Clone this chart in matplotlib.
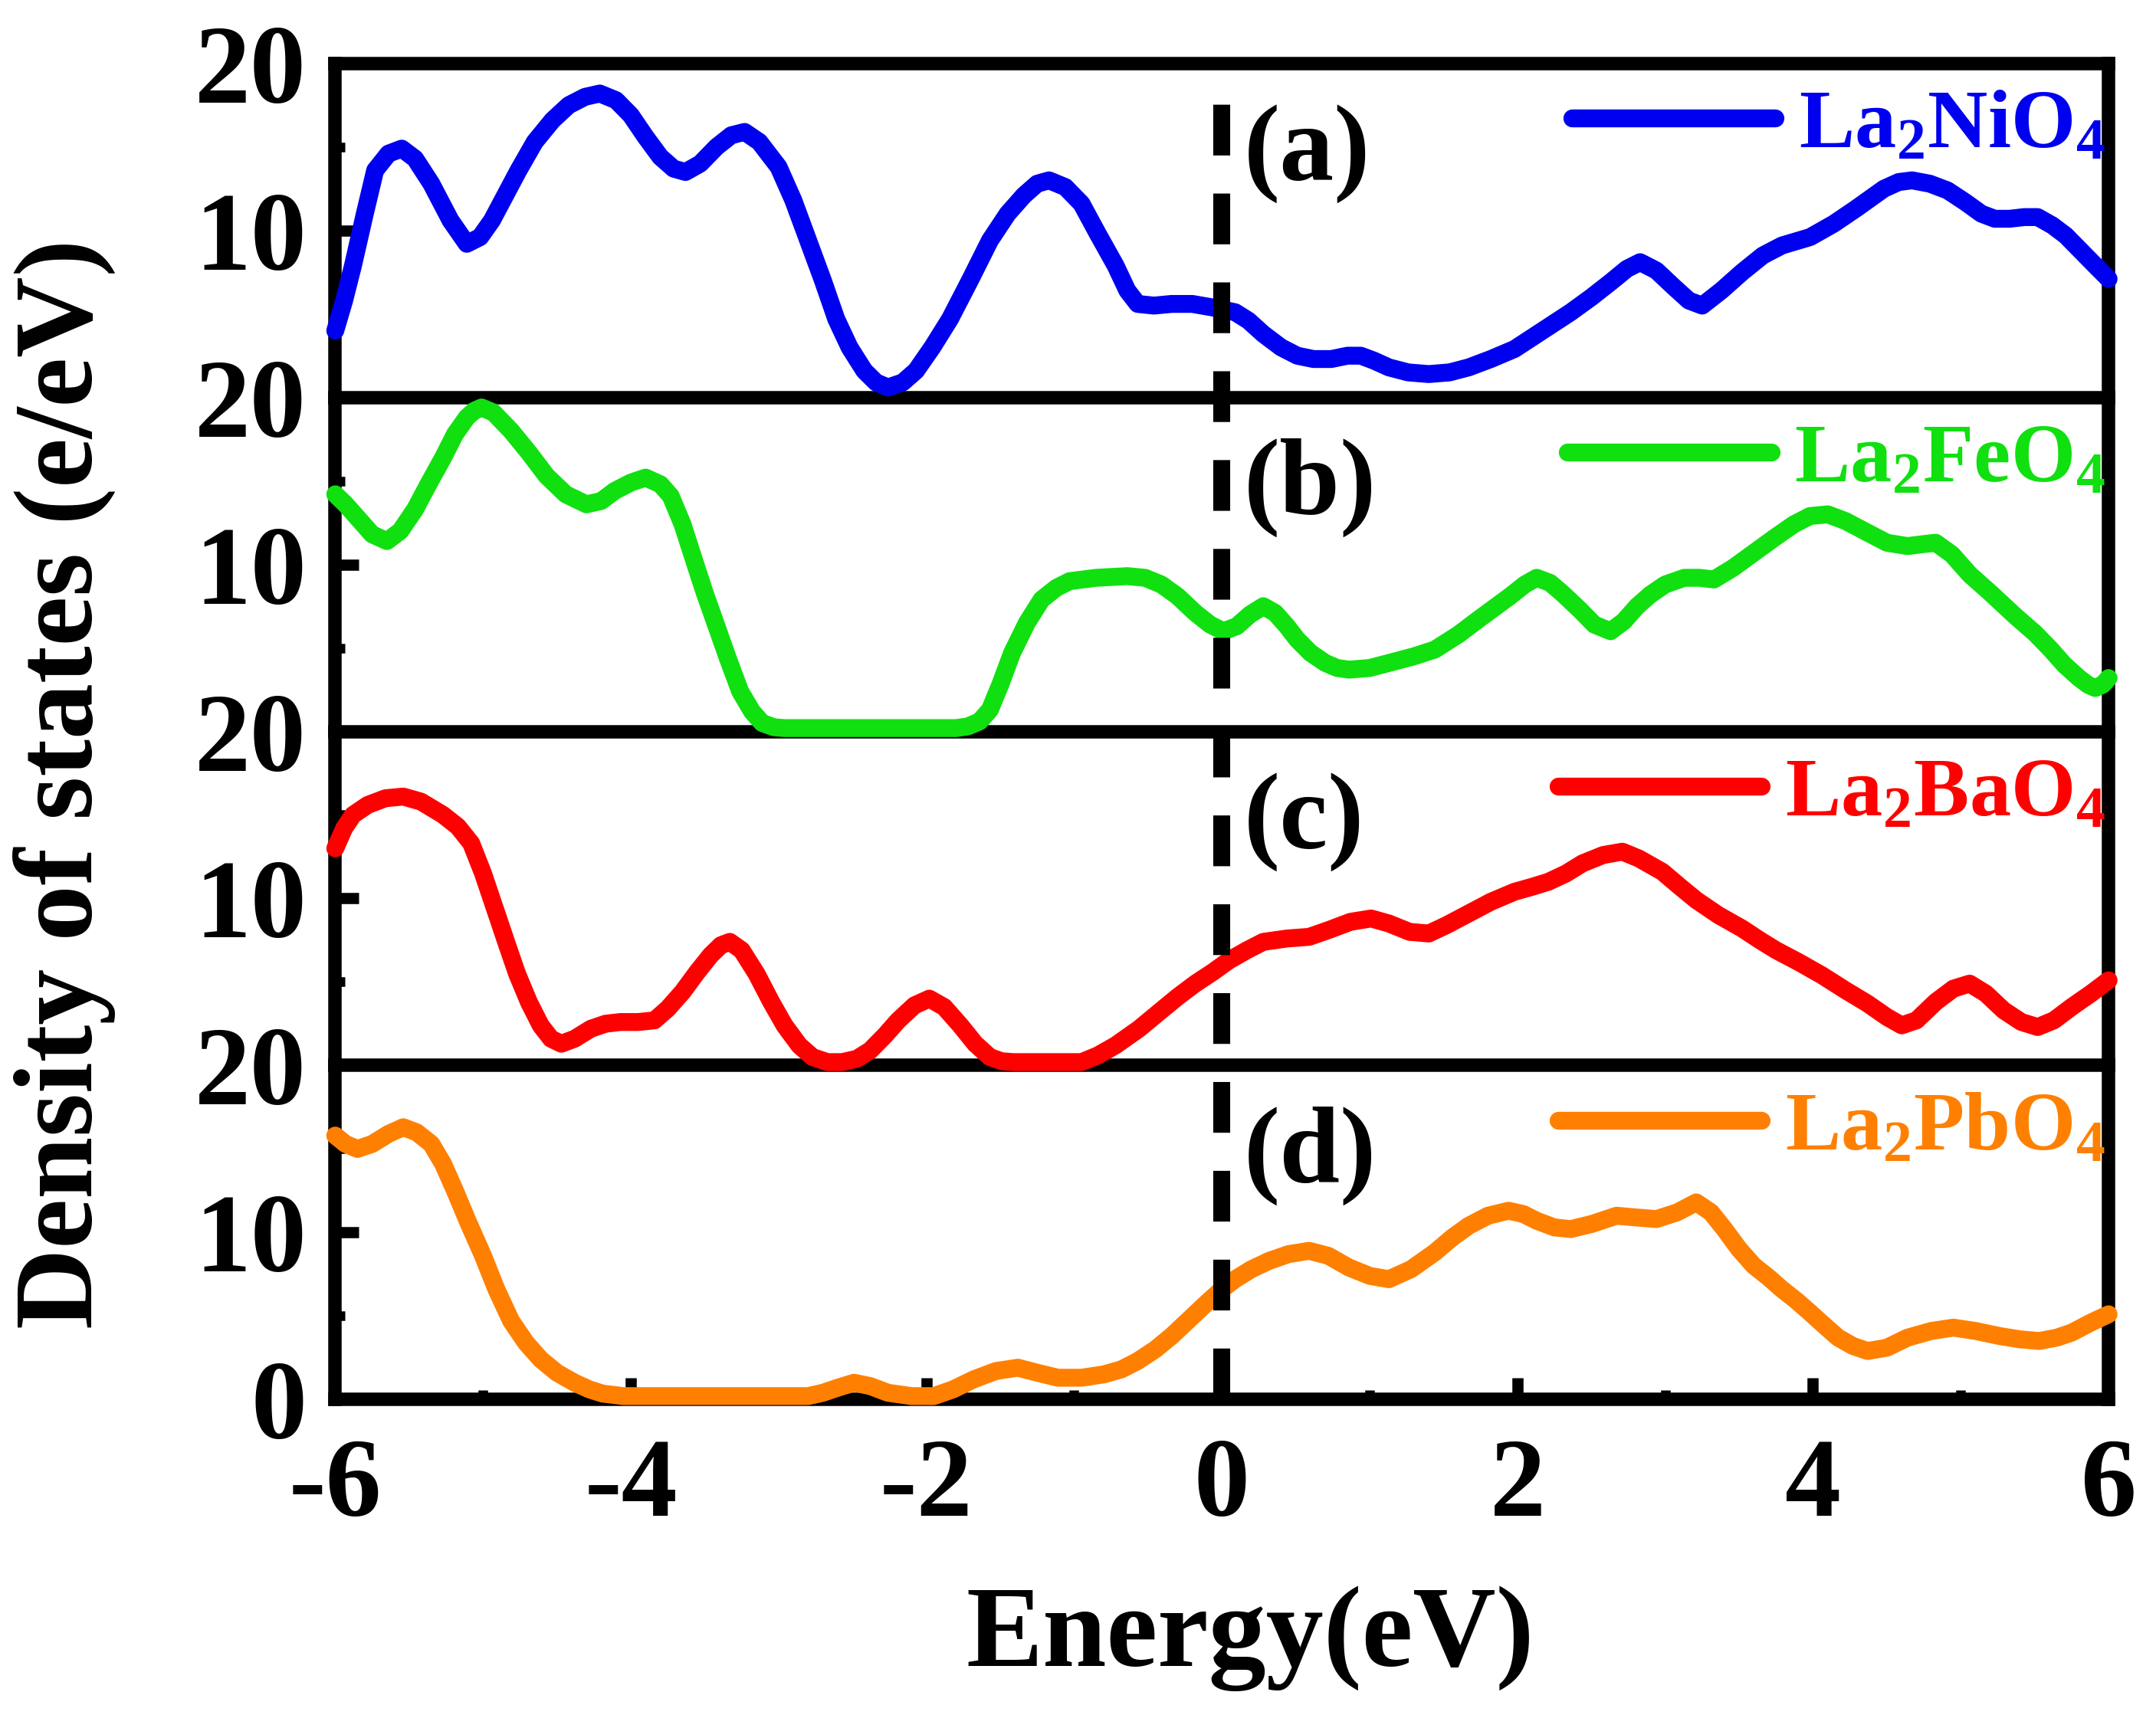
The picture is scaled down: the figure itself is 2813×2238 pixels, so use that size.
import numpy as np
import matplotlib
matplotlib.use('Agg')
import matplotlib.pyplot as plt
from matplotlib.transforms import blended_transform_factory

plt.rcParams['font.family'] = 'Liberation Serif'
plt.rcParams['font.weight'] = 'bold'
plt.rcParams['axes.unicode_minus'] = False
plt.rcParams['mathtext.fontset'] = 'custom'
plt.rcParams['mathtext.rm'] = 'Liberation Serif:bold'
plt.rcParams['mathtext.bf'] = 'Liberation Serif:bold'
plt.rcParams['mathtext.it'] = 'Liberation Serif:bold:italic'

# Density of states (energy in eV, DOS in e/eV)
ni_x = [-6.0, -5.94, -5.88, -5.8, -5.73, -5.64, -5.55, -5.46, -5.35, -5.22, -5.11, -5.02,
        -4.94, -4.88, -4.76, -4.65, -4.53, -4.42, -4.31, -4.21, -4.1, -4.0, -3.9, -3.8,
        -3.71, -3.63, -3.53, -3.42, -3.32, -3.23, -3.13, -3.0, -2.9, -2.8, -2.7, -2.61,
        -2.52, -2.42, -2.34, -2.26, -2.16, -2.07, -1.96, -1.84, -1.7, -1.57, -1.45, -1.34,
        -1.25, -1.17, -1.06, -0.95, -0.84, -0.72, -0.64, -0.57, -0.46, -0.34, -0.2, -0.07,
        0.09, 0.18, 0.28, 0.4, 0.51, 0.62, 0.74, 0.85, 0.94, 1.03, 1.13, 1.26, 1.4, 1.54,
        1.67, 1.82, 1.98, 2.17, 2.36, 2.5, 2.63, 2.74, 2.83, 2.94, 3.06, 3.16, 3.25, 3.38,
        3.52, 3.66, 3.79, 3.98, 4.14, 4.29, 4.48, 4.58, 4.67, 4.79, 4.91, 5.03, 5.14, 5.23,
        5.33, 5.43, 5.52, 5.62, 5.71, 5.81, 5.91, 6.0]
ni_y = [4.0, 5.8, 7.9, 11.0, 13.6, 14.6, 14.9, 14.3, 12.8, 10.6, 9.2, 9.6,
        10.6, 11.6, 13.6, 15.3, 16.6, 17.5, 18.0, 18.2, 17.8, 16.9, 15.6, 14.4,
        13.7, 13.5, 14.0, 15.0, 15.7, 15.9, 15.3, 13.8, 11.8, 9.4, 7.0, 4.7,
        3.0, 1.6, 0.9, 0.6, 0.9, 1.6, 3.0, 4.7, 7.1, 9.4, 11.0, 12.1,
        12.8, 13.0, 12.6, 11.6, 9.8, 7.9, 6.4, 5.6, 5.5, 5.6, 5.6, 5.4,
        5.1, 4.6, 3.8, 3.0, 2.5, 2.3, 2.3, 2.5, 2.5, 2.2, 1.8, 1.5, 1.4, 1.5,
        1.8, 2.3, 2.9, 4.0, 5.1, 6.0, 6.9, 7.7, 8.1, 7.6, 6.6, 5.8, 5.5, 6.4,
        7.5, 8.5, 9.1, 9.6, 10.4, 11.3, 12.5, 12.9, 13.0, 12.8, 12.4, 11.7, 11.0, 10.7,
        10.7, 10.8, 10.8, 10.3, 9.7, 8.8, 7.9, 7.1]

fe_x = [-6.0, -5.93, -5.85, -5.75, -5.65, -5.56, -5.46, -5.37, -5.27, -5.19, -5.11, -5.06,
        -5.01, -4.93, -4.81, -4.69, -4.57, -4.44, -4.3, -4.2, -4.11, -4.0, -3.9, -3.8,
        -3.73, -3.65, -3.57, -3.5, -3.42, -3.34, -3.26, -3.18, -3.11, -3.03, -2.96, -2.4,
        -1.8, -1.72, -1.64, -1.57, -1.5, -1.42, -1.32, -1.22, -1.12, -1.03, -0.85, -0.64,
        -0.52, -0.41, -0.3, -0.18, -0.08, 0.01, 0.1, 0.19, 0.28, 0.36, 0.44, 0.51,
        0.6, 0.7, 0.78, 0.86, 1.0, 1.13, 1.3, 1.44, 1.6, 1.75, 1.95, 2.05,
        2.13, 2.22, 2.3, 2.42, 2.52, 2.63, 2.72, 2.81, 2.9, 3.0, 3.13, 3.23,
        3.33, 3.46, 3.6, 3.74, 3.87, 3.98, 4.1, 4.22, 4.37, 4.5, 4.64, 4.73,
        4.83, 4.94, 5.06, 5.2, 5.37, 5.5, 5.61, 5.7, 5.8, 5.86, 5.91, 5.96, 6.0]
fe_y = [14.2, 13.6, 12.8, 11.8, 11.4, 12.0, 13.3, 14.8, 16.4, 17.8, 18.8, 19.2,
        19.4, 19.1, 18.0, 16.7, 15.3, 14.2, 13.6, 13.8, 14.4, 14.9, 15.2, 14.8,
        14.1, 12.4, 10.2, 8.3, 6.3, 4.3, 2.4, 1.2, 0.5, 0.25, 0.2, 0.2,
        0.2, 0.3, 0.6, 1.3, 2.8, 4.7, 6.5, 7.9, 8.6, 9.0, 9.2, 9.3,
        9.2, 8.8, 8.1, 7.1, 6.4, 6.0, 6.3, 7.0, 7.5, 7.1, 6.3, 5.5,
        4.7, 4.1, 3.8, 3.7, 3.8, 4.1, 4.5, 4.9, 5.8, 6.8, 8.1, 8.8,
        9.2, 8.9, 8.3, 7.3, 6.4, 6.0, 6.6, 7.5, 8.2, 8.8, 9.2, 9.2,
        9.1, 9.8, 10.7, 11.6, 12.4, 12.9, 13.0, 12.6, 11.9, 11.3, 11.1, 11.2,
        11.3, 10.6, 9.4, 8.3, 6.9, 5.9, 4.9, 4.0, 3.2, 2.8, 2.6, 2.8, 3.2]

ba_x = [-6.0, -5.94, -5.88, -5.78, -5.66, -5.54, -5.42, -5.27, -5.17, -5.08, -5.0, -4.92,
        -4.84, -4.77, -4.69, -4.61, -4.54, -4.47, -4.38, -4.27, -4.17, -4.07, -3.95, -3.84,
        -3.75, -3.65, -3.55, -3.46, -3.39, -3.33, -3.25, -3.15, -3.05, -2.96, -2.86, -2.77,
        -2.67, -2.57, -2.47, -2.38, -2.28, -2.19, -2.08, -1.98, -1.88, -1.77, -1.67, -1.57,
        -1.49, -1.41, -0.95, -0.84, -0.72, -0.56, -0.41, -0.3, -0.18, -0.06, 0.05, 0.17,
        0.28, 0.44, 0.59, 0.72, 0.87, 1.01, 1.13, 1.27, 1.4, 1.52, 1.67, 1.82,
        1.98, 2.1, 2.21, 2.33, 2.44, 2.58, 2.71, 2.82, 2.98, 3.1, 3.21, 3.36,
        3.52, 3.64, 3.75, 3.9, 4.06, 4.22, 4.37, 4.5, 4.6, 4.7, 4.83, 4.95,
        5.06, 5.17, 5.29, 5.41, 5.52, 5.63, 5.75, 5.88, 6.0]
ba_y = [13.0, 14.2, 15.0, 15.6, 16.0, 16.1, 15.8, 15.0, 14.3, 13.3, 11.5, 9.4,
        7.3, 5.5, 3.8, 2.4, 1.6, 1.3, 1.6, 2.2, 2.5, 2.6, 2.6, 2.7,
        3.4, 4.4, 5.6, 6.6, 7.2, 7.4, 6.9, 5.5, 3.8, 2.4, 1.2, 0.5,
        0.2, 0.2, 0.4, 0.9, 1.8, 2.7, 3.6, 4.0, 3.5, 2.4, 1.3, 0.5,
        0.25, 0.2, 0.2, 0.6, 1.2, 2.2, 3.3, 4.1, 4.9, 5.6, 6.3, 6.9,
        7.4, 7.6, 7.7, 8.1, 8.6, 8.8, 8.5, 8.0, 7.9, 8.4, 9.1, 9.8,
        10.4, 10.7, 11.0, 11.5, 12.1, 12.6, 12.8, 12.4, 11.6, 10.7, 9.9, 9.0,
        8.2, 7.5, 6.9, 6.2, 5.4, 4.5, 3.7, 2.9, 2.4, 2.7, 3.8, 4.6,
        4.9, 4.3, 3.3, 2.6, 2.3, 2.7, 3.5, 4.3, 5.1]

pb_x = [-6.0, -5.93, -5.85, -5.75, -5.64, -5.54, -5.45, -5.35, -5.27, -5.19, -5.1, -5.0,
        -4.91, -4.81, -4.71, -4.61, -4.5, -4.38, -4.28, -4.19, -4.05, -3.5, -2.8, -2.7,
        -2.6, -2.49, -2.38, -2.26, -2.1, -1.95, -1.82, -1.68, -1.53, -1.38, -1.25, -1.11,
        -0.95, -0.8, -0.68, -0.57, -0.45, -0.34, -0.22, -0.1, 0.0, 0.09, 0.2, 0.32,
        0.45, 0.59, 0.72, 0.86, 1.0, 1.13, 1.28, 1.44, 1.56, 1.67, 1.8, 1.94,
        2.04, 2.13, 2.25, 2.36, 2.5, 2.67, 2.8, 2.94, 3.08, 3.21, 3.31, 3.4,
        3.5, 3.6, 3.7, 3.79, 3.89, 3.98, 4.08, 4.17, 4.27, 4.37, 4.5, 4.64,
        4.8, 4.95, 5.1, 5.26, 5.4, 5.53, 5.65, 5.75, 5.88, 6.0]
pb_y = [15.8, 15.3, 15.0, 15.3, 15.9, 16.3, 16.0, 15.3, 14.1, 12.5, 10.6, 8.6,
        6.6, 4.7, 3.4, 2.4, 1.6, 1.0, 0.6, 0.35, 0.2, 0.2, 0.2, 0.4,
        0.7, 1.0, 0.8, 0.4, 0.2, 0.2, 0.6, 1.2, 1.7, 1.9, 1.6, 1.3,
        1.3, 1.5, 1.8, 2.3, 3.0, 3.8, 4.8, 5.8, 6.6, 7.2, 7.8, 8.3,
        8.7, 8.9, 8.6, 7.9, 7.4, 7.2, 7.8, 8.8, 9.7, 10.4, 11.0, 11.3,
        11.1, 10.7, 10.3, 10.2, 10.5, 11.0, 10.9, 10.8, 11.2, 11.8, 11.2, 10.2,
        9.0, 8.0, 7.3, 6.6, 5.9, 5.2, 4.4, 3.7, 3.2, 2.9, 3.1, 3.7,
        4.1, 4.3, 4.1, 3.8, 3.6, 3.5, 3.7, 4.0, 4.6, 5.1]

names = [r'La$_\mathbf{2}$NiO$_\mathbf{4}$', r'La$_\mathbf{2}$FeO$_\mathbf{4}$',
         r'La$_\mathbf{2}$BaO$_\mathbf{4}$', r'La$_\mathbf{2}$PbO$_\mathbf{4}$']
panel_tags = ['(a)', '(b)', '(c)', '(d)']
colors = ['#0000F0', '#10E010', '#FF0000', '#FF8000']
series = [(ni_x, ni_y), (fe_x, fe_y), (ba_x, ba_y), (pb_x, pb_y)]

fig = plt.figure(figsize=(2813 / 300, 2238 / 300), dpi=300)
gs = fig.add_gridspec(4, 1, left=0.1555, right=0.978, top=0.963, bottom=0.184, hspace=0)
axes = [fig.add_subplot(gs[i]) for i in range(4)]

for i, ax in enumerate(axes):
    ax.patch.set_visible(False)
    xs, ys = series[i]
    ax.plot(xs, ys, color=colors[i], lw=5.6, label=names[i], zorder=3,
            clip_on=False, solid_joinstyle='round', solid_capstyle='round')
    ax.set_xlim(-6, 6)
    ax.set_ylim(0, 20)
    for s in ax.spines.values():
        s.set_linewidth(4.2)
    ax.spines['top'].set_visible(i == 0)
    ax.set_yticks([0, 10, 20])
    ax.set_yticks([5, 15], minor=True)
    if i < 3:
        ax.set_yticklabels(['', '10', '20'])
    else:
        ax.set_yticklabels(['0', '10', '20'])
    ax.tick_params(axis='y', which='major', direction='in', length=7.5, width=3.5,
                   labelsize=35, pad=9, right=False)
    ax.tick_params(axis='y', which='minor', direction='in', length=3, width=3.0, right=False)
    if i < 3:
        ax.tick_params(axis='x', which='both', bottom=False, top=False, labelbottom=False)
    else:
        ax.set_xticks(np.arange(-6, 7, 2))
        ax.set_xticks(np.arange(-5, 6, 2), minor=True)
        ax.tick_params(axis='x', which='major', direction='in', length=6.8, width=3.5,
                       labelsize=35, pad=12, top=False)
        ax.tick_params(axis='x', which='minor', direction='in', length=2.8, width=3.0, top=False)
    ax.text(0.15, 0.73, panel_tags[i], fontsize=34, fontweight='bold', va='center', ha='left',
            transform=blended_transform_factory(ax.transData, ax.transAxes), zorder=5)
    leg = ax.legend(loc='center right', bbox_to_anchor=(0.998, 0.81), frameon=False,
                    fontsize=26, handlelength=2.45, handletextpad=0.28, borderpad=0,
                    borderaxespad=0, labelcolor='linecolor')
    for h in leg.legend_handles:
        h.set_linewidth(5.6)
        h.set_solid_capstyle('round')

# Fermi level: one dashed line running through all four panels
axes[3].axvline(0, ymin=0, ymax=4, color='k', lw=5.3, ls=(0, (3.0, 2.25)),
                clip_on=False, zorder=6)

fig.text(0.580, 0.0286, 'Energy(eV)', fontsize=36, fontweight='bold',
         ha='center', va='baseline')
fig.text(0.030, 0.543, 'Density of states (e/eV)', fontsize=35, fontweight='bold',
         rotation=90, ha='center', va='center')

fig.savefig('out.png', dpi=300)
